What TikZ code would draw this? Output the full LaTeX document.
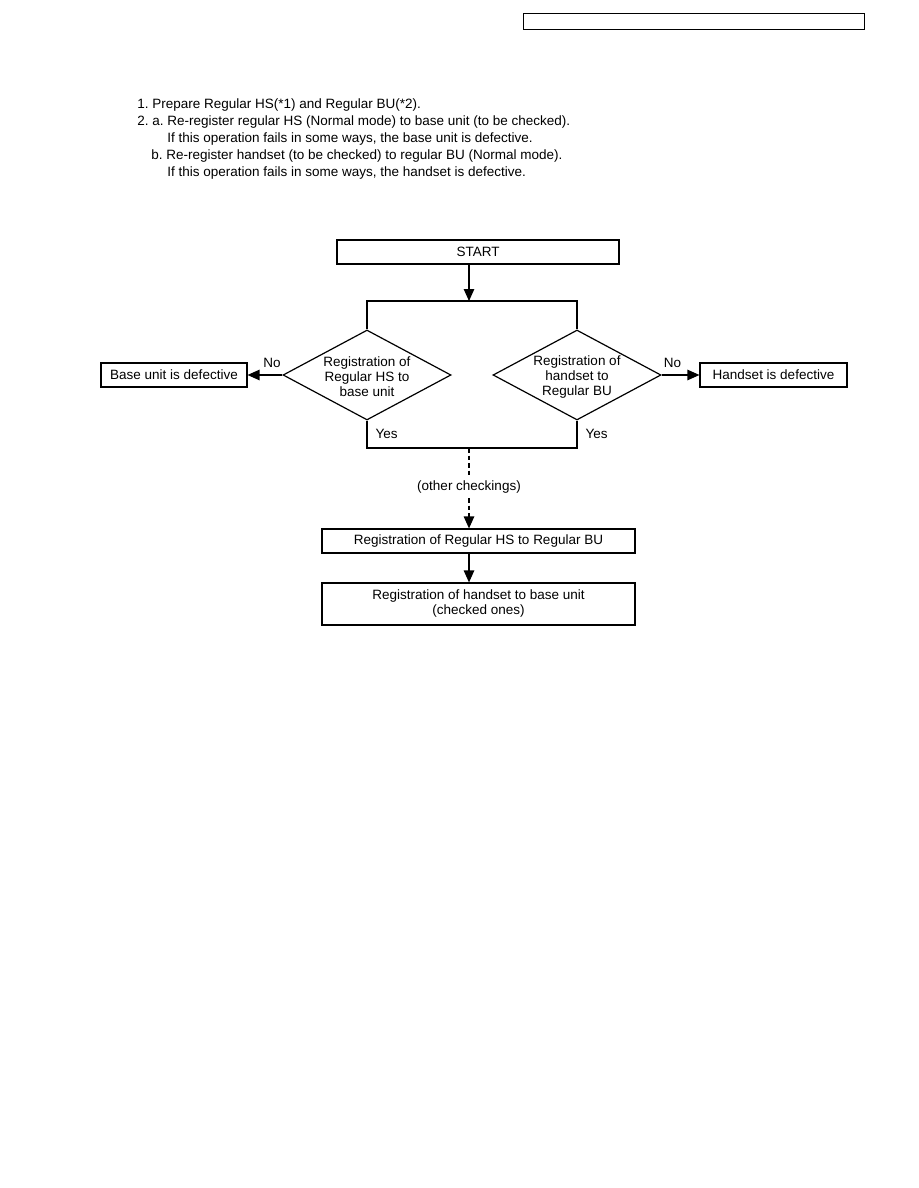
\documentclass[tikz,border=0pt]{standalone}
\usepackage{fontspec}
\setmainfont{Liberation Sans}
\usetikzlibrary{arrows.meta, shapes.geometric}
\frenchspacing

\begin{document}
\begin{tikzpicture}[x=0.6667pt, y=-0.6667pt,
    >={Triangle[length=8pt,width=7pt]},   % filled arrow tips
    font=\fontsize{9}{10}\selectfont,
    line/.style={line width=0.8pt},
    box/.style={draw, line width=0.8pt, inner sep=0pt, align=center},
    raute/.style={draw, diamond, line width=0.8pt, inner sep=-4pt, aspect=1.87,
                  minimum width=112pt, minimum height=60pt, align=center},
    txt/.style={anchor=base west, inner sep=0pt}]
  % page frame
  \useasboundingbox (0,0) rectangle (918,1188);
  \node[box, line width=0.6pt, minimum width=227.3pt, minimum height=10.7pt] (header) at (693.5,21) {};
  % instructions
  \node[txt] (l1) at (137,109) {1. Prepare Regular HS(*1) and Regular BU(*2).};
  \node[txt] (l2) at (137,126) {2. a. Re-register regular HS (Normal mode) to base unit (to be checked).};
  \node[txt] (l3) at (167,143) {If this operation fails in some ways, the base unit is defective.};
  \node[txt] (l4) at (151,160) {b. Re-register handset (to be checked) to regular BU (Normal mode).};
  \node[txt] (l5) at (167,177) {If this operation fails in some ways, the handset is defective.};
  % flow chart nodes
  \node[box, minimum width=188pt, minimum height=16pt] (start) at (478,252) {START};
  \coordinate (split) at (469,301);
  \node[raute] (checkbase) at (367,375) {\rule{0pt}{9pt}Registration of\\Regular HS to\\base unit};
  \node[raute] (checkhand) at (577,375) {\rule{0pt}{9pt}Registration of\\handset to\\Regular BU};
  \node[box, minimum width=97.3pt, minimum height=16pt] (basedef) at (174,375) {Base unit is defective};
  \node[box, minimum width=98pt, minimum height=16pt] (handdef) at (773.5,375) {Handset is defective};
  \coordinate (merge) at (469,448);
  \node[inner sep=3pt] (other) at (469,487) {(other checkings)};
  \node[box, minimum width=208.7pt, minimum height=16pt] (reghsbu) at (478.5,541) {Registration of Regular HS to Regular BU};
  \node[box, minimum width=208.7pt, minimum height=28pt] (reghandbase) at (478.5,604) {Registration of handset to base unit\\(checked ones)};
  % connectors
  \draw[->, line] (start.south -| split) -- (split);
  \draw[line] (checkbase.north) -- (checkbase.north |- split) -- (checkhand.north |- split) -- (checkhand.north);
  \draw[->, line] (checkbase.west) -- node[pos=0.3, above=1pt] (nol) {No} (basedef.east);
  \draw[->, line] (checkhand.east) -- node[pos=0.29, above=1pt] (nor) {No} (handdef.west);
  \draw[line] (checkbase.south) -- node[right=2pt] (yesl) {Yes} (checkbase.south |- merge)
    -- (checkhand.south |- merge) -- node[right=2pt] (yesr) {Yes} (checkhand.south);
  \draw[line, densely dashed] (merge) -- (other.north);
  \draw[->, line, densely dashed] (other.south) -- (reghsbu.north -| merge);
  \draw[->, line] (reghsbu.south -| merge) -- (reghandbase.north -| merge);
\end{tikzpicture}
\end{document}
